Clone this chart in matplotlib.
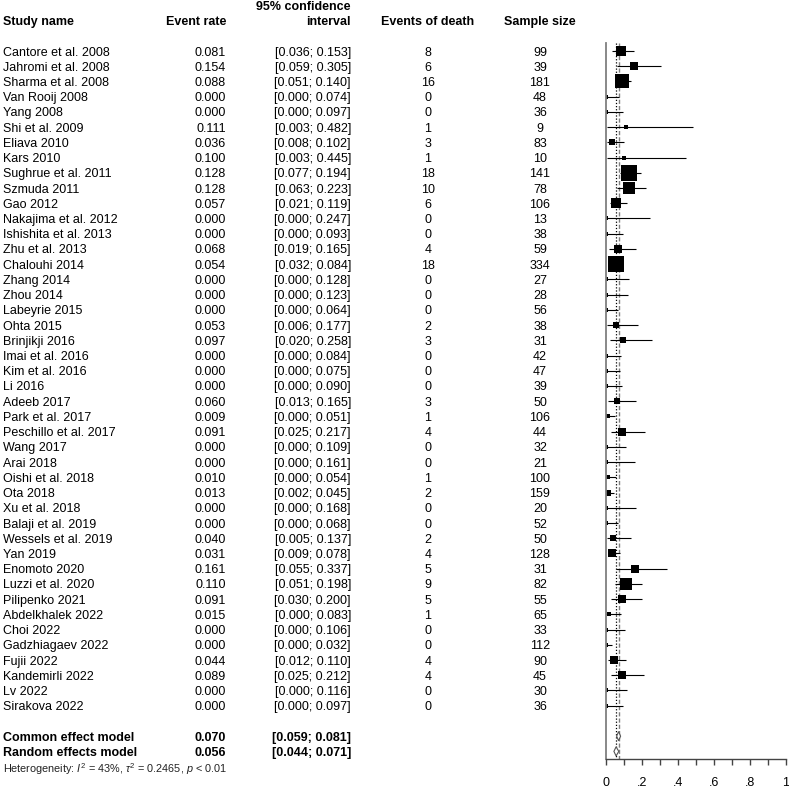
import matplotlib
matplotlib.use("Agg")
import matplotlib.pyplot as plt
import matplotlib.transforms as mtransforms
import numpy as np

plt.rcParams['font.family'] = ['Liberation Sans', 'DejaVu Sans']
plt.rcParams['mathtext.fontset'] = 'custom'
plt.rcParams['mathtext.rm'] = 'Liberation Sans'
plt.rcParams['mathtext.it'] = 'Liberation Sans:italic'

studies = ["Cantore et al. 2008", "Jahromi et al. 2008", "Sharma et al. 2008", "Van Rooij 2008",
           "Yang 2008", "Shi et al. 2009", "Eliava 2010", "Kars 2010", "Sughrue et al. 2011",
           "Szmuda 2011", "Gao 2012", "Nakajima et al. 2012", "Ishishita et al. 2013",
           "Zhu et al. 2013", "Chalouhi 2014", "Zhang 2014", "Zhou 2014", "Labeyrie 2015",
           "Ohta 2015", "Brinjikji 2016", "Imai et al. 2016", "Kim et al. 2016", "Li 2016",
           "Adeeb 2017", "Park et al. 2017", "Peschillo et al. 2017", "Wang 2017", "Arai 2018",
           "Oishi et al. 2018", "Ota 2018", "Xu et al. 2018", "Balaji et al. 2019",
           "Wessels et al. 2019", "Yan 2019", "Enomoto 2020", "Luzzi et al. 2020",
           "Pilipenko 2021", "Abdelkhalek 2022", "Choi 2022", "Gadzhiagaev 2022", "Fujii 2022",
           "Kandemirli 2022", "Lv 2022", "Sirakova 2022"]
rate = [0.081, 0.154, 0.088, 0.000, 0.000, 0.111, 0.036, 0.100, 0.128, 0.128,
        0.057, 0.000, 0.000, 0.068, 0.054, 0.000, 0.000, 0.000, 0.053, 0.097,
        0.000, 0.000, 0.000, 0.060, 0.009, 0.091, 0.000, 0.000, 0.010, 0.013,
        0.000, 0.000, 0.040, 0.031, 0.161, 0.110, 0.091, 0.015, 0.000, 0.000,
        0.044, 0.089, 0.000, 0.000]
lower = [0.036, 0.059, 0.051, 0.000, 0.000, 0.003, 0.008, 0.003, 0.077, 0.063,
         0.021, 0.000, 0.000, 0.019, 0.032, 0.000, 0.000, 0.000, 0.006, 0.020,
         0.000, 0.000, 0.000, 0.013, 0.000, 0.025, 0.000, 0.000, 0.000, 0.002,
         0.000, 0.000, 0.005, 0.009, 0.055, 0.051, 0.030, 0.000, 0.000, 0.000,
         0.012, 0.025, 0.000, 0.000]
upper = [0.153, 0.305, 0.140, 0.074, 0.097, 0.482, 0.102, 0.445, 0.194, 0.223,
         0.119, 0.247, 0.093, 0.165, 0.084, 0.128, 0.123, 0.064, 0.177, 0.258,
         0.084, 0.075, 0.090, 0.165, 0.051, 0.217, 0.109, 0.161, 0.054, 0.045,
         0.168, 0.068, 0.137, 0.078, 0.337, 0.198, 0.200, 0.083, 0.106, 0.032,
         0.110, 0.212, 0.116, 0.097]
events = [8, 6, 16, 0, 0, 1, 3, 1, 18, 10, 6, 0, 0, 4, 18, 0, 0, 0, 2, 3,
          0, 0, 0, 3, 1, 4, 0, 0, 1, 2, 0, 0, 2, 4, 5, 9, 5, 1, 0, 0, 4, 4, 0, 0]
sample = [99, 39, 181, 48, 36, 9, 83, 10, 141, 78, 106, 13, 38, 59, 334, 27, 28, 56, 38, 31,
          42, 47, 39, 50, 106, 44, 32, 21, 100, 159, 20, 52, 50, 128, 31, 82, 55, 65, 33, 112,
          90, 45, 30, 36]

common = (0.070, 0.059, 0.081)
random_eff = (0.056, 0.044, 0.071)
xticks = [0, 0.2, 0.4, 0.6, 0.8, 1.0]
xtick_labels = ["0", ".2", ".4", ".6", ".8", "1"]

W = 789
fig = plt.figure(figsize=(7.89, 7.89), dpi=100)
ax = fig.add_axes([606 / W, 30 / W, 180 / W, 759 / W])
ax.set_xlim(0, 1)
ax.set_ylim(46.5, -3.35)
ax.patch.set_alpha(0)

n = len(studies)
rows = np.arange(n)
ev = np.array(events, dtype=float)
ss = np.array(sample, dtype=float)
cc = np.where(ev == 0, 0.5, 0.0)
w = 1.0 / (1.0 / (ev + cc) + 1.0 / (ss - ev + cc))
msize = np.maximum(2.8 * np.sqrt(w), 2.4)

# reference lines (common = dashed grey, random = dotted black)
ax.vlines(common[0], -0.55, 46.5, colors='#7f7f7f', linestyles=(0, (3, 1.5)), lw=1.0)
ax.vlines(random_eff[0], -0.55, 46.5, colors='black', linestyles=(0, (1, 1.5)), lw=0.9)

for i in range(n):
    ax.hlines(rows[i], lower[i], upper[i], colors='black', lw=0.8)
    ax.plot(rate[i], rows[i], 's', color='black', ms=msize[i], mec='black', mew=0)

def diamond(row, est, lo, hi):
    ax.fill([lo, est, hi, est, lo], [row, row - 0.3, row, row + 0.3, row],
            facecolor='white', edgecolor='#555555', lw=0.8, zorder=3)

diamond(45, *common)
diamond(46, *random_eff)

for s in ['top', 'right']:
    ax.spines[s].set_visible(False)
ax.spines['left'].set_bounds(-0.55, 46.5)
ax.spines['left'].set_color('#7f7f7f')
ax.spines['left'].set_linewidth(1.3)
ax.spines['bottom'].set_color('#444444')
ax.spines['bottom'].set_linewidth(1.0)
ax.set_yticks([])
ax.set_xticks(xticks)
ax.set_xticklabels(xtick_labels, fontsize=9)
ax.set_xticks(np.arange(0, 1.01, 0.1), minor=True)
ax.tick_params(axis='x', which='both', direction='out', length=4.5, width=1.0,
               color='#444444', pad=8.5)

# text columns
tr = mtransforms.blended_transform_factory(fig.transFigure, ax.transData)
x_name, x_rate, x_ci, x_ev, x_n = 3 / W, 226 / W, 351 / W, 428 / W, 540 / W
fs = 9
va = 'center_baseline'

ax.text(x_name, -2, "Study name", transform=tr, ha='left', va=va, fontsize=fs, fontweight='bold')
ax.text(x_rate, -2, "Event rate", transform=tr, ha='right', va=va, fontsize=fs, fontweight='bold')
ax.text(x_ci, -3, "95% confidence", transform=tr, ha='right', va=va, fontsize=fs, fontweight='bold')
ax.text(x_ci, -2, "interval", transform=tr, ha='right', va=va, fontsize=fs, fontweight='bold')
ax.text(x_ev, -2, "Events of death", transform=tr, ha='center', va=va, fontsize=fs, fontweight='bold')
ax.text(x_n, -2, "Sample size", transform=tr, ha='center', va=va, fontsize=fs, fontweight='bold')

for i in range(n):
    ax.text(x_name, rows[i], studies[i], transform=tr, ha='left', va=va, fontsize=fs)
    ax.text(x_rate, rows[i], f"{rate[i]:.3f}", transform=tr, ha='right', va=va, fontsize=fs)
    ax.text(x_ci, rows[i], f"[{lower[i]:.3f}; {upper[i]:.3f}]", transform=tr, ha='right',
            va=va, fontsize=fs)
    ax.text(x_ev, rows[i], str(events[i]), transform=tr, ha='center', va=va, fontsize=fs)
    ax.text(x_n, rows[i], str(sample[i]), transform=tr, ha='center', va=va, fontsize=fs)

for row, label, vals in [(45, "Common effect model", common), (46, "Random effects model", random_eff)]:
    ax.text(x_name, row, label, transform=tr, ha='left', va=va, fontsize=fs, fontweight='bold')
    ax.text(x_rate, row, f"{vals[0]:.3f}", transform=tr, ha='right', va=va, fontsize=fs,
            fontweight='bold')
    ax.text(x_ci, row, f"[{vals[1]:.3f}; {vals[2]:.3f}]", transform=tr, ha='right', va=va,
            fontsize=fs, fontweight='bold')

ax.text(x_name, 47, r"Heterogeneity: $I^2$ = 43%, $\tau^2$ = 0.2465, $p$ < 0.01",
        transform=tr, ha='left', va=va, fontsize=7.8, color='#222222')

fig.savefig("out.png", dpi=100)
